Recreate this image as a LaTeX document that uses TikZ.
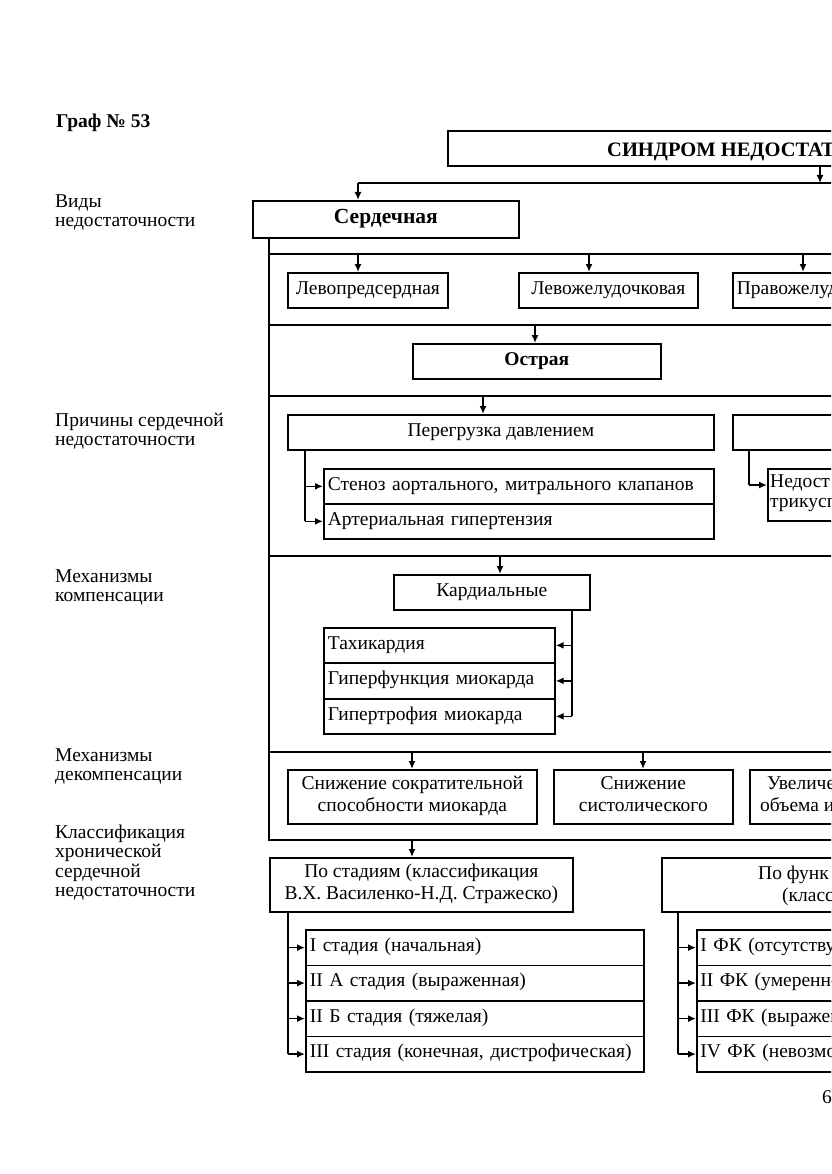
\documentclass[tikz,border=0pt]{standalone}
\usepackage{fontspec}
\setmainfont{Liberation Serif}
\usetikzlibrary{arrows.meta}
\newcommand\fb{\fontsize{19.5}{22}\selectfont}
\newcommand\fl{\fontsize{19.5}{19.5}\selectfont}
\newcommand\fn{\fontsize{19.5}{20}\selectfont}
\newcommand\fh{\fontsize{21.5}{22}\selectfont\bfseries}
\newcommand\ft{\fontsize{20.5}{22}\selectfont\bfseries}
\begin{document}
\begin{tikzpicture}[x=1pt,y=-1pt,
  ln/.style={line width=1.7pt},
  arr/.style={line width=1.7pt,-{Latex[length=8pt,width=7pt]}},
  box/.style={draw,line width=1.7pt,inner sep=0pt,font=\fb,align=center,anchor=north west},
  one/.style={text height=13.3pt,text depth=5.7pt},
  two/.style={text depth=5.7pt},
  lab/.style={inner sep=0pt,font=\fl,align=left,anchor=base west},
  ltx/.style={inner sep=0pt,font=\fb,align=left,anchor=base west},
]
\useasboundingbox (0,0) rectangle (831,1174);
\fill[white] (0,0) rectangle (831,1174);
\clip (0,0) rectangle (831,1174);

% left labels (base = last line)
\node[lab,font={\fl\bfseries}] (title) at (56,128) {Граф № 53};
\node[lab] (l1) at (55,227) {Виды\\недостаточности};
\node[lab] (l2) at (55,445.5) {Причины сердечной\\недостаточности};
\node[lab] (l3) at (55,601.5) {Механизмы\\компенсации};
\node[lab] (l4) at (55,780.5) {Механизмы\\декомпенсации};
\node[lab] (l5) at (55,896.5) {Классификация\\хронической\\сердечной\\недостаточности};

% top
\node[box,minimum width=453pt,minimum height=35pt] (T) at (447,130) {};
\node[lab,font=\ft] (Tt) at (607,157) {СИНДРОМ НЕДОСТАТО};
\node[box,text height=14.5pt,text depth=5.7pt,font=\fh,minimum width=266pt,minimum height=37pt] (S) at (252,200) {Сердечная};

\coordinate (k1) at (820,183);
\coordinate (b0L) at (358,183);
\coordinate (b0R) at (900,183);
\draw[ln] (b0L) -- (b0R);
\draw[arr] (T.south -| k1) -- (k1);
\draw[arr] (b0L) -- (S.north -| b0L);

% frame
\coordinate (L) at (269,840);
\coordinate (Le) at (900,840);
\draw[ln] (S.south -| L) -- (L) -- (Le);
\coordinate (h1) at (269,254);
\coordinate (h2) at (269,325);
\coordinate (h3) at (269,396);
\coordinate (h4) at (269,556);
\coordinate (h5) at (269,752);
\foreach \h in {h1,h2,h3,h4,h5} \draw[ln] (\h) -- ++(640,0);

% row 1
\node[box,one,minimum width=160pt,minimum height=35pt] (lp) at (287,272) {Левопредсердная};
\node[box,one,minimum width=179pt,minimum height=35pt] (lzh) at (518,272) {Левожелудочковая};
\node[box,one,align=left,text width=160pt,minimum width=168pt,minimum height=35pt] (pzh) at (732,272) {Правожелуд};
\coordinate (a1) at (358,254);
\coordinate (a2) at (589,254);
\coordinate (a3) at (803,254);
\draw[arr] (a1) -- (a1 |- lp.north);
\draw[arr] (a2) -- (a2 |- lzh.north);
\draw[arr] (a3) -- (a3 |- pzh.north);

% acute
\node[box,one,font={\fb\bfseries},minimum width=248pt,minimum height=35pt] (ostr) at (412,343) {Острая};
\coordinate (a4) at (535,325);
\draw[arr] (a4) -- (a4 |- ostr.north);

% causes
\node[box,one,minimum width=426pt,minimum height=35pt] (pd) at (287,414) {Перегрузка давлением};
\node[box,minimum width=168pt,minimum height=35pt] (po) at (732,414) {};
\coordinate (a5) at (483,396);
\draw[arr] (a5) -- (a5 |- pd.north);
\node[box,one,align=left,text width=382pt,minimum width=390pt,minimum height=35pt] (st) at (323,468) {Стеноз аортального, митрального клапанов};
\node[box,one,align=left,text width=382pt,minimum width=390pt,minimum height=35pt] (ag) at (323,503) {Артериальная гипертензия};
\coordinate (v1) at (305,449);
\draw[ln] (v1) -- (v1 |- ag.west);
\draw[arr] (v1 |- st.west) -- (st.west);
\draw[arr] (v1 |- ag.west) -- (ag.west);
\node[box,minimum width=133pt,minimum height=52pt] (nt) at (767,468) {};
\node[ltx,font=\fn] (ntt) at (770,507) {Недост\\трикусп};
\coordinate (v2) at (749,449);
\coordinate (v2e) at (749,485);
\draw[ln] (v2) -- (v2e);
\draw[arr] (v2e) -- (v2e -| nt.west);

% compensation
\node[box,one,minimum width=196pt,minimum height=35pt] (kd) at (393,574) {Кардиальные};
\coordinate (a6) at (500,556);
\draw[arr] (a6) -- (a6 |- kd.north);
\node[box,one,align=left,text width=223pt,minimum width=231pt,minimum height=35pt] (tx) at (323,627) {Тахикардия};
\node[box,one,align=left,text width=223pt,minimum width=231pt,minimum height=36pt] (gf) at (323,662) {Гиперфункция миокарда};
\node[box,one,align=left,text width=223pt,minimum width=231pt,minimum height=35pt] (gt) at (323,698) {Гипертрофия миокарда};
\coordinate (v3) at (572,609);
\draw[ln] (v3) -- (v3 |- gt.east);
\draw[arr] (v3 |- tx.east) -- (tx.east);
\draw[arr] (v3 |- gf.east) -- (gf.east);
\draw[arr] (v3 |- gt.east) -- (gt.east);

% decompensation
\node[box,two,minimum width=249pt,minimum height=54pt] (sn1) at (287,769) {Снижение сократительной\\способности миокарда};
\node[box,two,minimum width=179pt,minimum height=54pt] (sn2) at (553,769) {Снижение\\систолического};
\node[box,minimum width=151pt,minimum height=54pt] (uv) at (749,769) {};
\node[ltx] (uvt) at (760,811) {\hspace*{7pt}Увеличе\\объема и};
\coordinate (a7) at (412,752);
\coordinate (a8) at (643,752);
\draw[arr] (a7) -- (a7 |- sn1.north);
\draw[arr] (a8) -- (a8 |- sn2.north);

% classification
\node[box,two,minimum width=303pt,minimum height=54pt] (ps) at (269,857) {По стадиям (классификация\\В.Х. Василенко-Н.Д. Стражеско)};
\coordinate (a9) at (412,840);
\draw[arr] (a9) -- (a9 |- ps.north);
\node[box,minimum width=239pt,minimum height=54pt] (pf) at (661,857) {};
\node[ltx] (pft) at (758,901) {По функ\\\hspace*{24pt}(класс};

\node[box,one,align=left,text width=330pt,minimum width=338pt,minimum height=35.5pt] (s1) at (305,929) {I стадия (начальная)};
\node[box,one,align=left,text width=330pt,minimum width=338pt,minimum height=35.5pt] (s2) at (305,964.5) {II А стадия (выраженная)};
\node[box,one,align=left,text width=330pt,minimum width=338pt,minimum height=35.5pt] (s3) at (305,1000) {II Б стадия (тяжелая)};
\node[box,one,align=left,text width=330pt,minimum width=338pt,minimum height=35.5pt] (s4) at (305,1035.5) {III стадия (конечная, дистрофическая)};
\coordinate (v4) at (288,911);
\draw[ln] (v4) -- (v4 |- s4.west);
\foreach \s in {s1,s2,s3,s4} \draw[arr] (v4 |- \s.west) -- (\s.west);

\node[box,one,align=left,text width=197pt,minimum width=204pt,minimum height=35.5pt] (f1) at (696,929) {I ФК (отсутству};
\node[box,one,align=left,text width=197pt,minimum width=204pt,minimum height=35.5pt] (f2) at (696,964.5) {II ФК (умеренно};
\node[box,one,align=left,text width=197pt,minimum width=204pt,minimum height=35.5pt] (f3) at (696,1000) {III ФК (выражен};
\node[box,one,align=left,text width=197pt,minimum width=204pt,minimum height=35.5pt] (f4) at (696,1035.5) {IV ФК (невозмо};
\coordinate (v5) at (678,911);
\draw[ln] (v5) -- (v5 |- f4.west);
\foreach \s in {f1,f2,f3,f4} \draw[arr] (v5 |- \s.west) -- (\s.west);

\node[lab] (pg) at (822,1103) {6};
\end{tikzpicture}
\end{document}
